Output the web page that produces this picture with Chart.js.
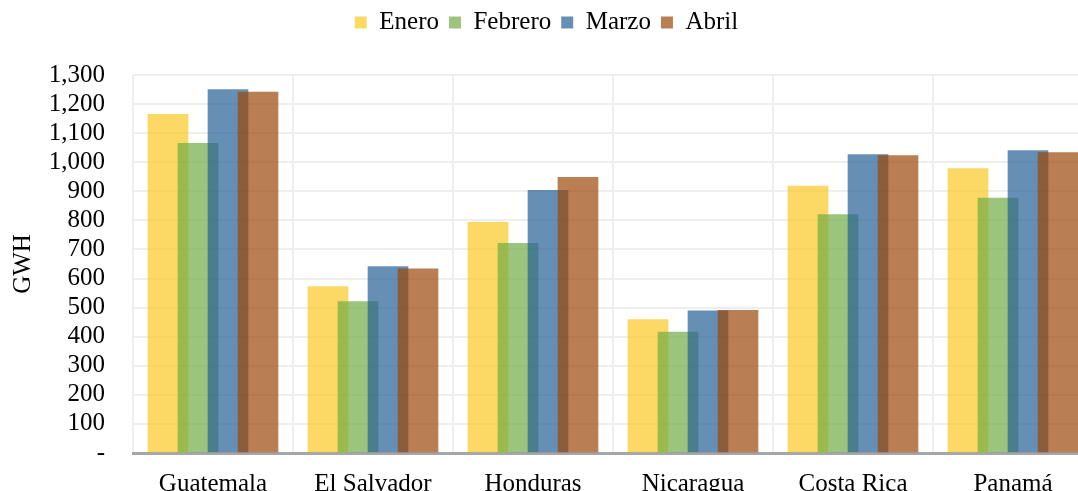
<!DOCTYPE html>
<html lang="es">
<head>
    <meta charset="UTF-8">
    <title>Generación por país (GWH)</title>
    <script src="https://cdn.jsdelivr.net/npm/chart.js"></script>
    <style>
        html, body { margin: 0; padding: 0; background: #ffffff; overflow: hidden; }
        .wrap { position: relative; width: 1096px; height: 500px; }
    </style>
</head>
<body>
    <div class="wrap">
        <canvas id="grafico"></canvas>
    </div>

    <script>
        // Datos (GWH)
        const paises = ['Guatemala', 'El Salvador', 'Honduras', 'Nicaragua', 'Costa Rica', 'Panamá'];
        const meses = ['Enero', 'Febrero', 'Marzo', 'Abril'];
        const enero = [1165, 572, 793, 459, 918, 978];
        const febrero = [1065, 521, 721, 416, 820, 877];
        const marzo = [1250, 641, 903, 489, 1026, 1040];
        const abril = [1241, 633, 948, 491, 1023, 1033];
        const colores = ['rgba(251, 201, 34, 0.7)', 'rgba(115, 171, 68, 0.7)', 'rgba(36, 96, 148, 0.7)', 'rgba(155, 71, 9, 0.7)'];

        const fuente = '"Liberation Serif", "Times New Roman", serif';
        Chart.defaults.font.family = fuente;
        Chart.defaults.font.size = 25;
        Chart.defaults.color = '#000000';

        const series = [enero, febrero, marzo, abril];

        // espacio extra debajo de la leyenda
        const margenLeyenda = {
            id: 'margenLeyenda',
            beforeInit(chart) {
                const fit = chart.legend.fit;
                chart.legend.fit = function () {
                    fit.bind(chart.legend)();
                    this.height += 30;
                };
            }
        };

        // dibuja las series en orden: la última queda encima (como en Excel)
        const ordenDibujo = {
            id: 'ordenDibujo',
            beforeDatasetsDraw(chart) {
                chart.getSortedVisibleDatasetMetas().forEach(meta => chart._drawDataset(meta));
                return false;
            }
        };

        new Chart(document.getElementById('grafico'), {
            type: 'bar',
            data: {
                labels: paises,
                datasets: meses.map((mes, i) => ({
                    label: mes,
                    data: series[i],
                    backgroundColor: colores[i],
                    borderWidth: 0,
                    categoryPercentage: 0.75,
                    barPercentage: 4 / 3
                }))
            },
            options: {
                responsive: true,
                maintainAspectRatio: false,
                animation: false,
                layout: { padding: { top: 0, right: 3, left: 0, bottom: 0 } },
                plugins: {
                    legend: {
                        position: 'top',
                        labels: { boxWidth: 12, boxHeight: 12, padding: 10 }
                    },
                    tooltip: { enabled: false }
                },
                scales: {
                    x: {
                        grid: { color: '#eeeeee', lineWidth: 2, drawTicks: false },
                        border: { color: '#a6a6a6', width: 3 },
                        ticks: { padding: 16, autoSkip: false },
                        afterFit: (scale) => { scale.height = 47; }
                    },
                    y: {
                        min: 0,
                        max: 1300,
                        grid: { color: '#eeeeee', lineWidth: 2, drawTicks: false },
                        border: { display: false },
                        ticks: {
                            stepSize: 100,
                            autoSkip: false,
                            padding: 28,
                            callback: (v) => v === 0 ? '-' : v.toLocaleString('en-US')
                        },
                        title: { display: true, text: 'GWH', padding: { top: 8, bottom: 4 } },
                        afterFit: (scale) => { scale.width = 133; }
                    }
                }
            },
            plugins: [margenLeyenda, ordenDibujo]
        });
    </script>
</body>
</html>
